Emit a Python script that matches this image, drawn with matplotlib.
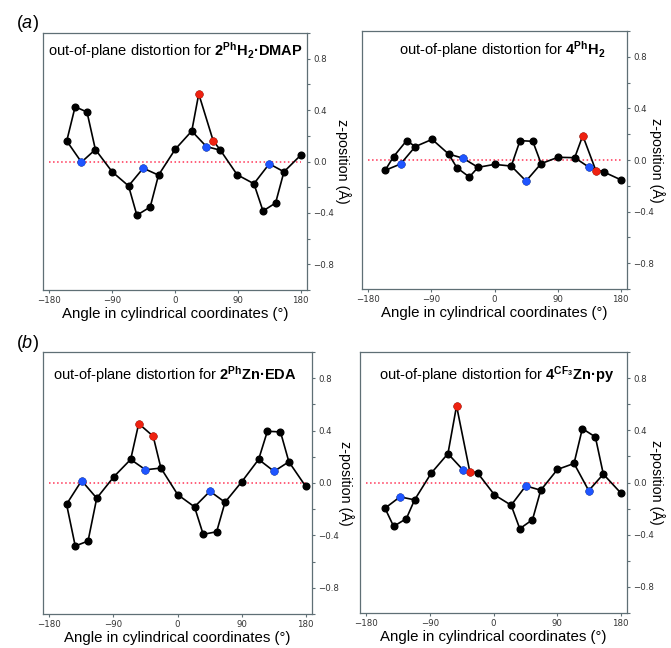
import matplotlib.pyplot as plt
from matplotlib.ticker import MultipleLocator
import numpy as np

plt.rcParams['font.family'] = ['Liberation Sans', 'DejaVu Sans']
plt.rcParams['mathtext.fontset'] = 'custom'
plt.rcParams['mathtext.rm'] = 'Liberation Sans'
plt.rcParams['mathtext.bf'] = 'Liberation Sans:bold'
plt.rcParams['mathtext.it'] = 'Liberation Sans:italic'

# atom order per ring: C_alpha, C_beta, C_beta, C_alpha, N, then meso carbon
ang_tl = [-155, -143, -126, -114, -134, -90,
          -66.5, -54.6, -35.5, -23.6, -45.5, 0.3,
          24, 34, 54.6, 65, 45, 89,
          113, 126, 144, 156, 135, 180]
z_tl = [0.16, 0.426, 0.385, 0.093, -0.005, -0.08,
        -0.19, -0.418, -0.354, -0.106, -0.052, 0.095,
        0.237, 0.526, 0.163, 0.088, 0.116, -0.103,
        -0.173, -0.385, -0.323, -0.08, -0.018, 0.049]

ang_tr = [-156, -144, -125.4, -113, -134, -89,
          -65.6, -53.6, -35.9, -23.5, -44.5, 0,
          23.9, 36.4, 54.6, 66.5, 45, 90.5,
          114.4, 125.9, 145, 156, 135, 180]
z_tr = [-0.08, 0.026, 0.15, 0.104, -0.031, 0.16,
        0.047, -0.06, -0.132, -0.057, 0.013, -0.034,
        -0.047, 0.15, 0.145, -0.028, -0.163, 0.021,
        0.018, 0.189, -0.088, -0.093, -0.057, -0.153]

ang_bl = [-155.9, -143.7, -125.7, -113.5, -134.7, -89.4,
          -65.8, -54.5, -34.2, -23.3, -45, 0.3,
          23.9, 36.1, 55, 66.8, 45.6, 90.4,
          114, 126.3, 144.7, 156.5, 135.7, 180]
z_bl = [-0.162, -0.481, -0.443, -0.116, 0.018, 0.048,
        0.18, 0.453, 0.357, 0.114, 0.101, -0.089,
        -0.182, -0.392, -0.372, -0.147, -0.063, 0.01,
        0.18, 0.395, 0.39, 0.162, 0.089, -0.025]

ang_br = [-153.6, -141.4, -123.4, -111.7, -132.4, -88.1,
          -64.5, -52.3, -33.4, -22.6, -43.3, 1.4,
          25, 37.2, 55.2, 66.9, 45.7, 90.5,
          114, 125.8, 144.2, 155.5, 134.8, 180]
z_br = [-0.197, -0.336, -0.277, -0.133, -0.11, 0.072,
        0.221, 0.587, 0.079, 0.074, 0.097, -0.095,
        -0.174, -0.354, -0.285, -0.059, -0.026, 0.1,
        0.146, 0.413, 0.349, 0.064, -0.062, -0.079]

red_tl = [13, 14]
red_tr = [19, 20]
red_bl = [7, 8]
red_br = [7, 8]
n_idx = [4, 10, 16, 22]

titles = [r'out-of-plane distortion for $\mathbf{2^{Ph}H_2·DMAP}$',
          r'out-of-plane distortion for $\mathbf{4^{Ph}H_2}$',
          r'out-of-plane distortion for $\mathbf{2^{Ph}Zn·EDA}$',
          r'out-of-plane distortion for $\mathbf{4^{CF_3}Zn·py}$']

W, H = 671, 648
boxes = [(43, 33, 307, 290), (362, 31, 627, 289),
         (43, 352, 312, 614), (360, 352, 627, 613)]
title_xy = [(0.5, 0.93), (0.53, 0.93), (0.49, 0.915), (0.51, 0.91)]
ylab_pad = [12, 8, 11, 8]
spine_col = '#5f6f75'

fig = plt.figure(figsize=(W / 100, H / 100), dpi=100)

outer = [i for i in range(24) if i not in n_idx]
panels = [(ang_tl, z_tl, red_tl), (ang_tr, z_tr, red_tr),
          (ang_bl, z_bl, red_bl), (ang_br, z_br, red_br)]

for k, (ang, z, red) in enumerate(panels):
    l, t, r, b = boxes[k]
    ax = fig.add_axes([l / W, 1 - b / H, (r - l) / W, (b - t) / H])
    ang = np.array(ang)
    z = np.array(z)
    ax.plot([-180, 180], [0, 0], ':', color='#ff3355', lw=1.1, zorder=1)
    ax.plot(ang[outer], z[outer], '-', color='black', lw=1.2, zorder=2)
    for ring in range(4):
        idx = [6 * ring, 6 * ring + 4, 6 * ring + 3]
        ax.plot(ang[idx], z[idx], '-', color='black', lw=1.2, zorder=2)
    ax.plot(ang, z, 'o', color='black', ms=4.8, zorder=3)
    ax.plot(ang[n_idx], z[n_idx], 'o', color='#1f55ff', ms=4.8, zorder=4)
    ax.plot(ang[red], z[red], 'o', color='#ee2211', ms=4.8, zorder=4)

    ax.set_xlim(-189, 189)
    ax.set_ylim(-1, 1)
    ax.set_xticks([-180, -90, 0, 90, 180])
    ax.yaxis.set_major_locator(MultipleLocator(0.4))
    ax.yaxis.set_minor_locator(MultipleLocator(0.2))
    ax.yaxis.tick_right()
    ax.yaxis.set_label_position('right')
    ax.tick_params(which='both', length=2.5, width=0.8, color=spine_col,
                   labelsize=6.2, labelcolor='#333333', pad=2)
    for lab in ax.get_xticklabels() + ax.get_yticklabels():
        lab.set_fontfamily('DejaVu Sans')
    for s in ax.spines.values():
        s.set_color(spine_col)
        s.set_linewidth(0.9)
    ax.set_xlabel('Angle in cylindrical coordinates (°)', fontsize=10.8, labelpad=1)
    ax.set_ylabel('z-position (Å)', fontsize=10.3, rotation=270, labelpad=ylab_pad[k])
    ax.text(title_xy[k][0], title_xy[k][1], titles[k], transform=ax.transAxes,
            ha='center', va='center', fontsize=10.5)

fig.text(27 / W, 1 - 24 / H, '(' + r'$\it{a}$' + ')', fontsize=13, ha='center', va='center')
fig.text(27 / W, 1 - 343 / H, '(' + r'$\it{b}$' + ')', fontsize=13, ha='center', va='center')

fig.savefig('out.png', dpi=100)
